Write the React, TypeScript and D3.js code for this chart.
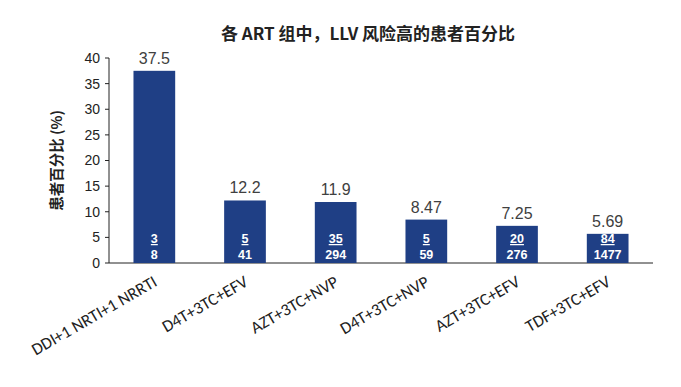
import React from "react";
import * as d3 from "d3";

const categories = ["DDI+1 NRTI+1 NRRTI", "D4T+3TC+EFV", "AZT+3TC+NVP", "D4T+3TC+NVP", "AZT+3TC+EFV", "TDF+3TC+EFV"];
const values = [37.5, 12.2, 11.9, 8.47, 7.25, 5.69];
const valueLabels = ["37.5", "12.2", "11.9", "8.47", "7.25", "5.69"];
const numerators = ["3", "5", "35", "5", "20", "84"];
const denominators = ["8", "41", "294", "59", "276", "1477"];
const yTicks = [0, 5, 10, 15, 20, 25, 30, 35, 40];
const title = "各 ART 组中，LLV 风险高的患者百分比";
const yLabel = "患者百分比 (%)";

const W = 681, H = 387;
const left = 109, right = 653, top = 58, bottom = 263;
const font = "'Liberation Sans', Arial, sans-serif";
const barColor = "#1f3f85";

export default function App() {
  const x = d3.scaleBand<string>().domain(categories).range([left, right]).paddingInner(0.54).paddingOuter(0.27);
  const y = d3.scaleLinear().domain([0, 40]).range([bottom, top]);
  return (
    <svg width={W} height={H} style={{ position: "absolute", left: 0, top: 0, background: "#fff" }}>
      <text x={368} y={40} textAnchor="middle" fontFamily="'Noto Sans CJK SC', sans-serif" fontWeight="bold" fontSize={17} fill="#222">{title}</text>
      <text transform={`translate(62,${(top + bottom) / 2}) rotate(-90)`} textAnchor="middle" fontFamily="'Noto Sans CJK SC', sans-serif" fontWeight="bold" fontSize={14.5} fill="#222">{yLabel}</text>
      <line x1={left} x2={left} y1={top} y2={bottom} stroke="#222" strokeWidth={1} />
      <line x1={left} x2={right} y1={bottom} y2={bottom} stroke="#222" strokeWidth={1} />
      {yTicks.map(t => (
        <g key={t}>
          <line x1={left - 4} x2={left} y1={y(t)} y2={y(t)} stroke="#222" />
          <text x={left - 9} y={y(t)} dy="0.35em" textAnchor="end" fontFamily={font} fontSize={14} fill="#222">{t}</text>
        </g>
      ))}
      {categories.map((c, i) => {
        const bx = x(c)!;
        const bw = x.bandwidth();
        const cx = bx + bw / 2;
        return (
          <g key={c}>
            <rect x={bx} y={y(values[i])} width={bw} height={bottom - y(values[i])} fill={barColor} />
            <text x={cx} y={y(values[i]) - 7} textAnchor="middle" fontFamily={font} fontSize={16} fill="#404040">{valueLabels[i]}</text>
            <text x={cx} y={bottom - 20} textAnchor="middle" fontFamily={font} fontWeight="bold" fontSize={12.5} fill="#fff" textDecoration="underline">{numerators[i]}</text>
            <text x={cx} y={bottom - 4} textAnchor="middle" fontFamily={font} fontWeight="bold" fontSize={12.5} fill="#fff">{denominators[i]}</text>
            <text transform={`translate(${cx + 4},${bottom + 22}) rotate(-30)`} textAnchor="end" fontFamily="Carlito, 'Liberation Sans', Arial, sans-serif" fontSize={17} fill="#222">{c}</text>
          </g>
        );
      })}
    </svg>
  );
}
